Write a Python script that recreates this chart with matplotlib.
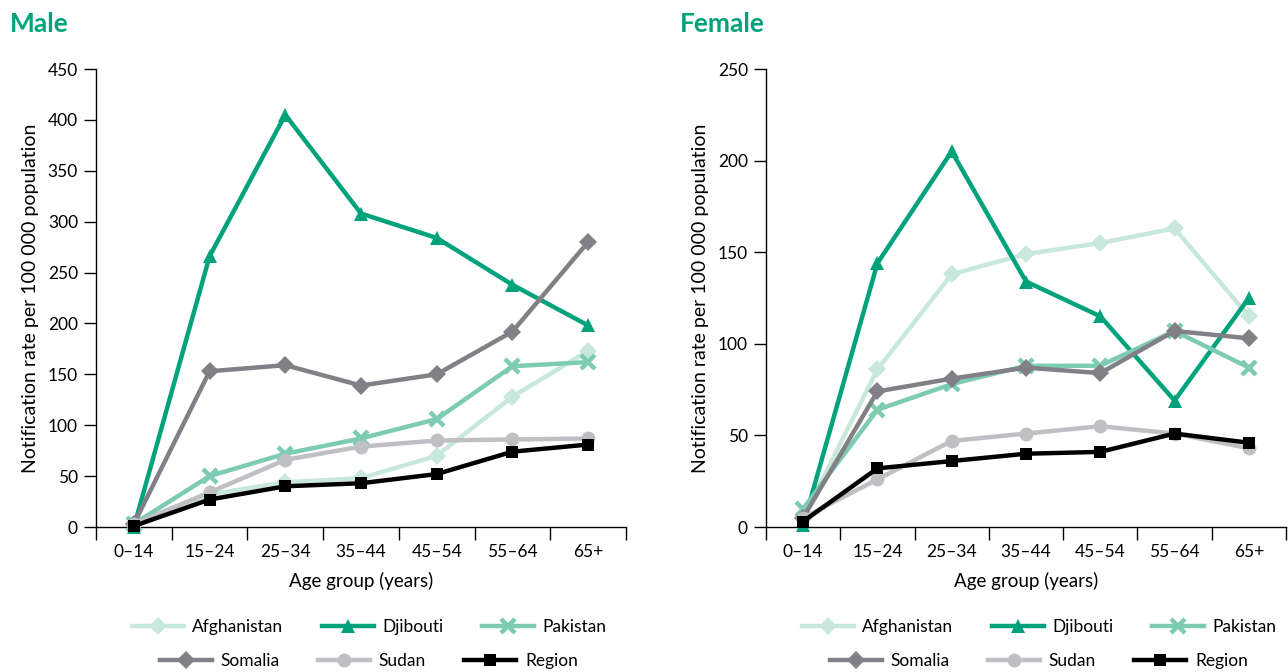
import matplotlib
matplotlib.use("Agg")
import matplotlib.pyplot as plt
from matplotlib.lines import Line2D

plt.rcParams["font.family"] = ["Lato", "DejaVu Sans"]

AGE = ["0–14", "15–24", "25–34", "35–44", "45–54", "55–64", "65+"]
COUNTRIES = ["Afghanistan", "Djibouti", "Pakistan", "Somalia", "Sudan", "Region"]

male_afghanistan = [2, 32, 44, 48, 70, 128, 173]
male_djibouti = [0, 266, 405, 308, 284, 238, 198]
male_pakistan = [3, 50, 72, 87, 106, 158, 162]
male_somalia = [3, 153, 159, 139, 150, 192, 280]
male_sudan = [3, 34, 66, 79, 85, 86, 87]
male_region = [1, 27, 40, 43, 52, 74, 81]

female_afghanistan = [5, 86, 138, 149, 155, 163, 115]
female_djibouti = [1, 144, 205, 134, 115, 69, 125]
female_pakistan = [10, 64, 78, 88, 88, 107, 87]
female_somalia = [5, 74, 81, 87, 84, 107, 103]
female_sudan = [5, 26, 47, 51, 55, 51, 43]
female_region = [3, 32, 36, 40, 41, 51, 46]

GREEN = "#00a27c"
STYLE = {
    "Afghanistan": dict(color="#c9e8dc", marker="D", ms=9, mew=0),
    "Djibouti": dict(color=GREEN, marker="^", ms=10, mew=0),
    "Pakistan": dict(color="#7dcbb2", marker="x", ms=10, mew=3.2),
    "Somalia": dict(color="#808086", marker="D", ms=9, mew=0),
    "Sudan": dict(color="#bfbfc4", marker="o", ms=10, mew=0),
    "Region": dict(color="black", marker="s", ms=8.5, mew=0),
}


def style_kw(name):
    st = STYLE[name]
    return dict(color=st["color"], lw=3.2, marker=st["marker"], ms=st["ms"],
                mec=st["color"], mew=st["mew"])


fig = plt.figure(figsize=(12.88, 6.72), dpi=100)
W, H = 1288, 672
axM = fig.add_axes([96 / W, 1 - 527 / H, 530 / W, 458 / H])
axF = fig.add_axes([766 / W, 1 - 527 / H, 520 / W, 458 / H])

panels = [
    (axM, "Male", 450, [male_afghanistan, male_djibouti, male_pakistan,
                        male_somalia, male_sudan, male_region], 10),
    (axF, "Female", 250, [female_afghanistan, female_djibouti, female_pakistan,
                          female_somalia, female_sudan, female_region], 680),
]

x = list(range(len(AGE)))
for ax, title, ymax, series, tx in panels:
    for i, (name, vals) in enumerate(zip(COUNTRIES, series)):
        ax.plot(x, vals, zorder=3 + i, clip_on=False, **style_kw(name))
    ax.set_xlim(-0.5, len(AGE) - 0.5)
    ax.set_ylim(0, ymax)
    ax.set_yticks(range(0, ymax + 1, 50))
    ax.set_xticks(x)
    ax.set_xticklabels(AGE)
    ax.set_xticks([i - 0.5 for i in range(len(AGE) + 1)], minor=True)
    ax.tick_params(axis="x", which="major", length=0, pad=12, labelsize=12.5)
    ax.tick_params(axis="x", which="minor", length=9, width=1)
    ax.tick_params(axis="y", length=9, width=1, labelsize=12.5, pad=4)
    for s in ("top", "right"):
        ax.spines[s].set_visible(False)
    ax.spines["left"].set_linewidth(1)
    ax.spines["bottom"].set_linewidth(1)
    ax.set_ylabel("Notification rate per 100 000 population", fontsize=14, labelpad=6)
    ax.set_xlabel("Age group (years)", fontsize=13.5, labelpad=9)
    fig.text(tx / W, 1 - 24 / H, title, color=GREEN, fontsize=19, fontweight="bold",
             ha="left", va="center")

    handles = [Line2D([], [], **style_kw(name)) for name in COUNTRIES]
    pos = ax.get_position()
    cx = pos.x0 + 273 / W
    for row, ypix in ((0, 627), (1, 661)):
        fig.legend(handles[row * 3:row * 3 + 3], COUNTRIES[row * 3:row * 3 + 3],
                   loc="center", bbox_to_anchor=(cx, 1 - ypix / H), ncol=3,
                   frameon=False, fontsize=12.5, handlelength=3, columnspacing=2.2,
                   handletextpad=0.5)

fig.savefig("out.png", dpi=100)
